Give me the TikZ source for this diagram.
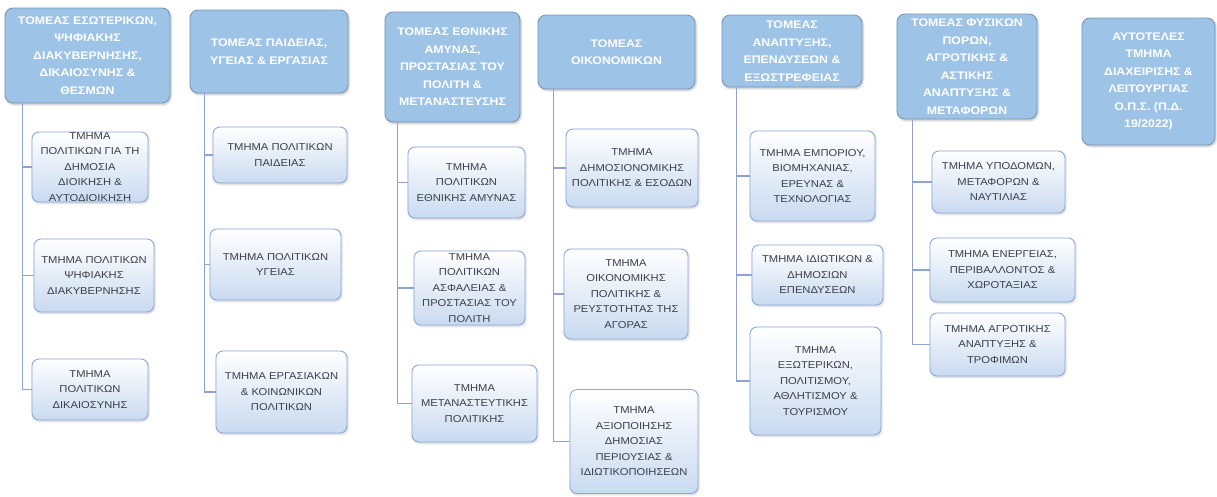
\documentclass[tikz,border=0pt]{standalone}
\usepackage{fontspec}
\setmainfont{Liberation Sans}[FakeStretch=1.12]
\usetikzlibrary{shadows.blur}
\definecolor{hdrfill}{HTML}{9DC3E6}
\definecolor{hdrline}{HTML}{7896BA}
\definecolor{chline}{HTML}{8EA9DB}
\definecolor{chbot}{HTML}{C9DAF0}
\definecolor{conncol}{HTML}{8FA3D2}
\definecolor{chtext}{HTML}{3A3F4A}
\tikzset{
  hdr/.style={draw=hdrline, line width=0.9pt, fill=hdrfill, rounded corners=8pt,
    text=white, align=center, inner xsep=2pt, inner ysep=0pt,
    font=\bfseries\fontsize{11}{17.5}\selectfont,
    blur shadow={shadow blur steps=6, shadow xshift=1pt, shadow yshift=-1.5pt, shadow opacity=25}},
  child/.style={draw=chline, line width=0.9pt, top color=white, bottom color=chbot,
    rounded corners=7pt, text=chtext, align=center, inner xsep=2pt, inner ysep=0pt,
    font=\fontsize{10}{15.5}\selectfont,
    blur shadow={shadow blur steps=5, shadow xshift=0.8pt, shadow yshift=-1.2pt, shadow opacity=20}},
  conn/.style={draw=conncol, line width=1.3pt}
}
\begin{document}
\begin{tikzpicture}[x=1pt,y=-1pt]
\useasboundingbox (0,0) rectangle (1217,496);
% headers
\node[hdr, minimum width=165pt, minimum height=95pt] (H1) at (87.5,55.5)
  {ΤΟΜΕΑΣ ΕΣΩΤΕΡΙΚΩΝ,\\ΨΗΦΙΑΚΗΣ\\ΔΙΑΚΥΒΕΡΝΗΣΗΣ,\\ΔΙΚΑΙΟΣΥΝΗΣ \&\\ΘΕΣΜΩΝ};
\node[hdr, minimum width=158pt, minimum height=83pt] (H2) at (269,51.5)
  {ΤΟΜΕΑΣ ΠΑΙΔΕΙΑΣ,\\ΥΓΕΙΑΣ \& ΕΡΓΑΣΙΑΣ};
\node[hdr, minimum width=135pt, minimum height=110pt] (H3) at (452.5,67)
  {ΤΟΜΕΑΣ ΕΘΝΙΚΗΣ\\ΑΜΥΝΑΣ,\\ΠΡΟΣΤΑΣΙΑΣ ΤΟΥ\\ΠΟΛΙΤΗ \&\\ΜΕΤΑΝΑΣΤΕΥΣΗΣ};
\node[hdr, minimum width=157pt, minimum height=74pt] (H4) at (616.5,52)
  {ΤΟΜΕΑΣ\\ΟΙΚΟΝΟΜΙΚΩΝ};
\node[hdr, minimum width=140pt, minimum height=72pt] (H5) at (792,51)
  {ΤΟΜΕΑΣ\\ΑΝΑΠΤΥΞΗΣ,\\ΕΠΕΝΔΥΣΕΩΝ \&\\ΕΞΩΣΤΡΕΦΕΙΑΣ};
\node[hdr, minimum width=140pt, minimum height=105pt] (H6) at (967,66.5)
  {ΤΟΜΕΑΣ ΦΥΣΙΚΩΝ\\ΠΟΡΩΝ,\\ΑΓΡΟΤΙΚΗΣ \&\\ΑΣΤΙΚΗΣ\\ΑΝΑΠΤΥΞΗΣ \&\\ΜΕΤΑΦΟΡΩΝ};
\node[hdr, minimum width=133pt, minimum height=127pt] (H7) at (1148.5,81.5)
  {ΑΥΤΟΤΕΛΕΣ\\ΤΜΗΜΑ\\ΔΙΑΧΕΙΡΙΣΗΣ \&\\ΛΕΙΤΟΥΡΓΙΑΣ\\Ο.Π.Σ. (Π.Δ.\\19/2022)};
% children column 1
\node[child, minimum width=116pt, minimum height=70pt] (C1a) at (90,167)
  {ΤΜΗΜΑ\\ΠΟΛΙΤΙΚΩΝ ΓΙΑ ΤΗ\\ΔΗΜΟΣΙΑ\\ΔΙΟΙΚΗΣΗ \&\\ΑΥΤΟΔΙΟΙΚΗΣΗ};
\node[child, minimum width=120pt, minimum height=73pt] (C1b) at (94,275.5)
  {ΤΜΗΜΑ ΠΟΛΙΤΙΚΩΝ\\ΨΗΦΙΑΚΗΣ\\ΔΙΑΚΥΒΕΡΝΗΣΗΣ};
\node[child, minimum width=116pt, minimum height=61pt] (C1c) at (90,389.5)
  {ΤΜΗΜΑ\\ΠΟΛΙΤΙΚΩΝ\\ΔΙΚΑΙΟΣΥΝΗΣ};
% column 2
\node[child, minimum width=134pt, minimum height=56pt] (C2a) at (280,155)
  {ΤΜΗΜΑ ΠΟΛΙΤΙΚΩΝ\\ΠΑΙΔΕΙΑΣ};
\node[child, minimum width=131pt, minimum height=71pt] (C2b) at (275.5,264.5)
  {ΤΜΗΜΑ ΠΟΛΙΤΙΚΩΝ\\ΥΓΕΙΑΣ};
\node[child, minimum width=131pt, minimum height=82pt] (C2c) at (281.5,392)
  {ΤΜΗΜΑ ΕΡΓΑΣΙΑΚΩΝ\\\& ΚΟΙΝΩΝΙΚΩΝ\\ΠΟΛΙΤΙΚΩΝ};
% column 3
\node[child, minimum width=117pt, minimum height=71pt] (C3a) at (466.5,182.5)
  {ΤΜΗΜΑ\\ΠΟΛΙΤΙΚΩΝ\\ΕΘΝΙΚΗΣ ΑΜΥΝΑΣ};
\node[child, minimum width=111pt, minimum height=74pt] (C3b) at (469.5,288)
  {ΤΜΗΜΑ\\ΠΟΛΙΤΙΚΩΝ\\ΑΣΦΑΛΕΙΑΣ \&\\ΠΡΟΣΤΑΣΙΑΣ ΤΟΥ\\ΠΟΛΙΤΗ};
\node[child, minimum width=125pt, minimum height=77pt] (C3c) at (474.5,403.5)
  {ΤΜΗΜΑ\\ΜΕΤΑΝΑΣΤΕΥΤΙΚΗΣ\\ΠΟΛΙΤΙΚΗΣ};
% column 4
\node[child, minimum width=132pt, minimum height=78pt] (C4a) at (632,168)
  {ΤΜΗΜΑ\\ΔΗΜΟΣΙΟΝΟΜΙΚΗΣ\\ΠΟΛΙΤΙΚΗΣ \& ΕΣΟΔΩΝ};
\node[child, minimum width=124pt, minimum height=90pt] (C4b) at (626,294)
  {ΤΜΗΜΑ\\ΟΙΚΟΝΟΜΙΚΗΣ\\ΠΟΛΙΤΙΚΗΣ \&\\ΡΕΥΣΤΟΤΗΤΑΣ ΤΗΣ\\ΑΓΟΡΑΣ};
\node[child, minimum width=128pt, minimum height=104pt] (C4c) at (634,441.5)
  {ΤΜΗΜΑ\\ΑΞΙΟΠΟΙΗΣΗΣ\\ΔΗΜΟΣΙΑΣ\\ΠΕΡΙΟΥΣΙΑΣ \&\\ΙΔΙΩΤΙΚΟΠΟΙΗΣΕΩΝ};
% column 5
\node[child, minimum width=125pt, minimum height=90pt] (C5a) at (812.5,176)
  {ΤΜΗΜΑ ΕΜΠΟΡΙΟΥ,\\ΒΙΟΜΗΧΑΝΙΑΣ,\\ΕΡΕΥΝΑΣ \&\\ΤΕΧΝΟΛΟΓΙΑΣ};
\node[child, minimum width=131pt, minimum height=60pt] (C5b) at (817.5,275)
  {ΤΜΗΜΑ ΙΔΙΩΤΙΚΩΝ \&\\ΔΗΜΟΣΙΩΝ\\ΕΠΕΝΔΥΣΕΩΝ};
\node[child, minimum width=131pt, minimum height=108pt] (C5c) at (815.5,381)
  {ΤΜΗΜΑ\\ΕΞΩΤΕΡΙΚΩΝ,\\ΠΟΛΙΤΙΣΜΟΥ,\\ΑΘΛΗΤΙΣΜΟΥ \&\\ΤΟΥΡΙΣΜΟΥ};
% column 6
\node[child, minimum width=133pt, minimum height=62pt] (C6a) at (998.5,182)
  {ΤΜΗΜΑ ΥΠΟΔΟΜΩΝ,\\ΜΕΤΑΦΟΡΩΝ \&\\ΝΑΥΤΙΛΙΑΣ};
\node[child, minimum width=145pt, minimum height=64pt] (C6b) at (1002.5,270)
  {ΤΜΗΜΑ ΕΝΕΡΓΕΙΑΣ,\\ΠΕΡΙΒΑΛΛΟΝΤΟΣ \&\\ΧΩΡΟΤΑΞΙΑΣ};
\node[child, minimum width=135pt, minimum height=63pt] (C6c) at (997.5,344.5)
  {ΤΜΗΜΑ ΑΓΡΟΤΙΚΗΣ\\ΑΝΑΠΤΥΞΗΣ \&\\ΤΡΟΦΙΜΩΝ};
% connectors
\foreach \h/\dx/\c in {H1/18/C1a,H1/18/C1b,H1/18/C1c,
                       H2/15/C2a,H2/15/C2b,H2/15/C2c,
                       H3/13/C3a,H3/13/C3b,H3/13/C3c,
                       H4/16/C4a,H4/16/C4b,H4/16/C4c,
                       H5/15/C5a,H5/15/C5b,H5/15/C5c,
                       H6/16/C6a,H6/16/C6b,H6/16/C6c}
  \draw[conn] ([xshift=\dx pt]\h.south west) |- (\c.west);
\end{tikzpicture}
\end{document}
